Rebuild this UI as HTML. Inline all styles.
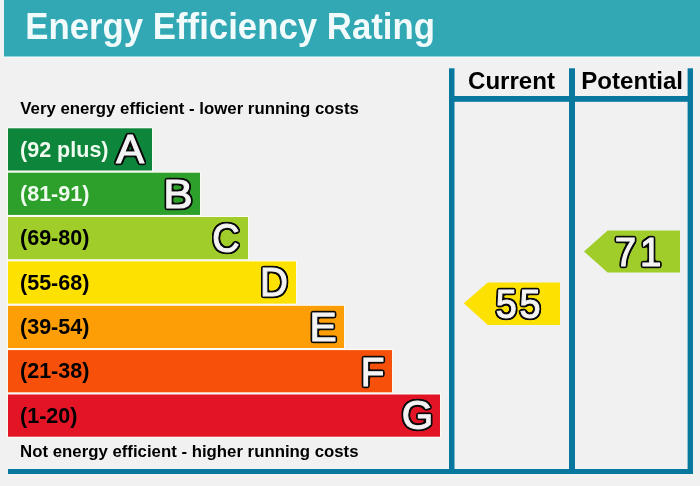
<!DOCTYPE html>
<html lang="en">
<head>
<meta charset="utf-8">
<title>Energy Efficiency Rating</title>
<style>
html,body{margin:0;padding:0;background:#f1f1f1;}
body{width:700px;height:486px;overflow:hidden;position:relative;font-family:"Liberation Sans",Arial,sans-serif;}
svg{position:absolute;left:0;top:0;display:block;}
text{font-family:"Liberation Sans",Arial,sans-serif;}
.b{font-weight:700;}
.o{font-size:41.4px;stroke-linejoin:miter;stroke-miterlimit:2.5;}
.o2{fill:#f3f3f3;stroke:#f3f3f3;stroke-width:1.1px;filter:url(#ol);}
</style>
</head>
<body>
<svg width="700" height="486" viewBox="0 0 700 486">
<defs><filter id="ol" x="-0.2" y="-0.2" width="1.4" height="1.4" color-interpolation-filters="sRGB"><feMorphology in="SourceAlpha" operator="dilate" radius="1" result="d"/><feGaussianBlur in="d" stdDeviation="0.9" result="g"/><feComponentTransfer in="g" result="t"><feFuncA type="linear" slope="5" intercept="-0.9"/></feComponentTransfer><feFlood flood-color="#0a0a0a"/><feComposite in2="t" operator="in" result="o"/><feMerge><feMergeNode in="o"/><feMergeNode in="SourceGraphic"/></feMerge></filter></defs>
<rect x="0" y="0" width="700" height="486" fill="#f1f1f1"/>
<rect x="4" y="56" width="696" height="1.6" fill="#f7fcfc"/>
<rect x="4" y="0" width="696" height="56.5" fill="#31a8b4"/>
<text class="b" transform="translate(25.2,39.4) scale(1,1.045)" font-size="34.8" fill="#f2fbfb">Energy Efficiency Rating</text>
<g fill="#08789f">
<rect x="449" y="68.3" width="5.5" height="405.7"/>
<rect x="569" y="68.3" width="6" height="405.7"/>
<rect x="687.6" y="68.3" width="5.4" height="405.7"/>
<rect x="449" y="96" width="244" height="5.8"/>
<rect x="8" y="469" width="685" height="5"/>
</g>
<text class="b" transform="translate(468.0,89.4) scale(1,1.03)" font-size="24.1" fill="#000">Current</text>
<text class="b" transform="translate(581.3,89.4) scale(1,1.03)" font-size="24.1" fill="#000">Potential</text>
<text class="b" x="20.3" y="114.3" font-size="16.8" fill="#000">Very energy efficient - lower running costs</text>
<text class="b" x="20.1" y="457.2" font-size="16.8" fill="#000">Not energy efficient - higher running costs</text>
<rect x="8" y="128.3" width="144" height="42.2" fill="#0d853a" stroke="#fbfbf3" stroke-width="2.2" paint-order="stroke"/>
<text class="b" transform="translate(20.0,156.6) scale(1.016,1)" font-size="21.2" fill="#f0fbf0">(92 plus)</text>
<g transform="translate(116.32,163.30) scale(1.009,1)"><text class="o o2" x="0" y="0">A</text></g>
<rect x="8" y="172.7" width="192" height="42.2" fill="#2d9f2b" stroke="#fbfbf3" stroke-width="2.2" paint-order="stroke"/>
<text class="b" transform="translate(20.0,201.0) scale(1.016,1)" font-size="21.2" fill="#f0fbf0">(81-91)</text>
<g transform="translate(163.28,207.60) scale(1.067,1)"><text class="o o2" x="0" y="0">B</text></g>
<rect x="8" y="217.0" width="240" height="42.2" fill="#a0cd2a" stroke="#fbfbf3" stroke-width="2.2" paint-order="stroke"/>
<text class="b" transform="translate(20.0,245.3) scale(1.016,1)" font-size="21.2" fill="#000">(69-80)</text>
<g transform="translate(212.23,251.89) scale(0.913,1)"><text class="o o2" x="0" y="0">C</text></g>
<rect x="8" y="261.4" width="288" height="42.2" fill="#fde100" stroke="#fbfbf3" stroke-width="2.2" paint-order="stroke"/>
<text class="b" transform="translate(20.0,289.7) scale(1.016,1)" font-size="21.2" fill="#000">(55-68)</text>
<g transform="translate(260.03,296.10) scale(0.934,1)"><text class="o o2" x="0" y="0">D</text></g>
<rect x="8" y="305.8" width="336" height="42.2" fill="#fd9e07" stroke="#fbfbf3" stroke-width="2.2" paint-order="stroke"/>
<text class="b" transform="translate(20.0,334.1) scale(1.016,1)" font-size="21.2" fill="#000">(39-54)</text>
<g transform="translate(309.56,341.20) scale(0.985,1)"><text class="o o2" x="0" y="0">E</text></g>
<rect x="8" y="350.1" width="384" height="42.2" fill="#f7500a" stroke="#fbfbf3" stroke-width="2.2" paint-order="stroke"/>
<text class="b" transform="translate(20.0,378.4) scale(1.016,1)" font-size="21.2" fill="#000">(21-38)</text>
<g transform="translate(360.81,385.70) scale(0.939,1)"><text class="o o2" x="0" y="0">F</text></g>
<rect x="8" y="394.5" width="432" height="42.2" fill="#e21426" stroke="#fbfbf3" stroke-width="2.2" paint-order="stroke"/>
<text class="b" transform="translate(20.0,422.8) scale(1.016,1)" font-size="21.2" fill="#000">(1-20)</text>
<g transform="translate(401.77,429.29) scale(0.977,1)"><text class="o o2" x="0" y="0">G</text></g>
<polygon points="463.8,303.3 487.8,282.6 560,282.6 560,324.9 487.8,324.9" fill="#fde100"/>
<g transform="translate(495.68,317.79) scale(0.917,1)"><text class="o o2" x="0" y="0"><tspan x="-0.00">5</tspan><tspan x="25.85">5</tspan></text></g>
<polygon points="584,251.5 607.6,230.6 680,230.6 680,272.6 607.6,272.6" fill="#a0cd2a"/>
<g transform="translate(614.83,265.70) scale(0.929,1)"><text class="o o2" x="0" y="0"><tspan x="-0.00">7</tspan><tspan x="27.17">1</tspan></text></g>
</svg>
</body>
</html>
